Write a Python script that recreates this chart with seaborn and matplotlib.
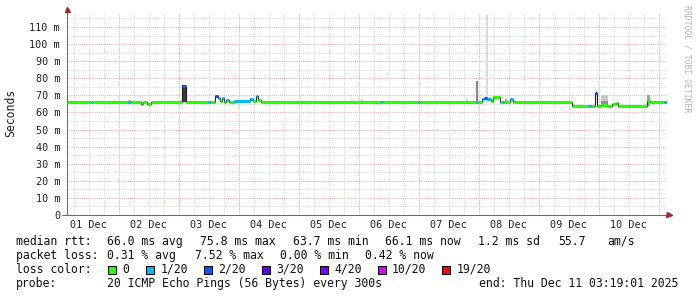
import numpy as np
import pandas as pd
import matplotlib
matplotlib.use("Agg")
import matplotlib.pyplot as plt
from matplotlib.patches import Rectangle
import seaborn as sns

# ---------------- data (hours since start: Dec 1 03:19:01) ----------------
median_h = [0.0, 9.6, 10.4, 24.4, 25.6, 29.6, 30.4, 32.0, 33.6, 46.0, 47.5,
            56.4, 57.6, 59.2, 60.4, 61.2, 62.0, 62.8, 63.6, 64.8, 66.8, 73.0,
            74.4, 75.6, 76.4, 77.6, 125.6, 126.4, 140.4, 141.2, 163.6, 164.4,
            166.0, 166.8, 168.0, 169.6, 170.4, 173.2, 174.0, 174.8, 177.2,
            178.4, 202.0, 208.4, 210.0, 211.2, 212.0, 213.6, 216.0, 218.0,
            219.6, 220.4, 232.0, 233.0, 238.8, 240.0]
median_ms = [66.0, 66.0, 66.0, 66.4, 66.0, 65.1, 66.0, 65.1, 66.0, 75.5, 66.0,
             66.0, 66.0, 69.5, 68.4, 67.0, 68.2, 66.4, 67.3, 66.0, 66.5, 67.6,
             66.8, 69.6, 67.4, 66.0, 66.0, 66.0, 66.0, 66.0, 66.0, 66.0,
             67.6, 68.3, 67.6, 66.8, 68.9, 66.0, 66.0, 66.0, 67.6,
             66.0, 63.8, 63.8, 63.8, 71.4, 63.8, 64.3, 64.0, 64.8,
             65.3, 63.8, 66.6, 66.0, 66.0, 66.0]
median_loss = [0, 1, 0, 1, 0, 0, 0, 0, 0, 2, 0,
               1, 0, 2, 1, 0, 1, 0, 1, 0, 1, 1,
               0, 1, 0, 0, 1, 0, 1, 0, 1, 0,
               1, 2, 1, 0, 0, 0, 1, 0, 1,
               0, 0, 1, 0, 2, 0, 0, 0, 0,
               0, 0, 0, 0, 1, 1]

smoke_start = [46.0, 24.4, 59.2, 73.0, 113.6, 117.6, 155.0, 159.6, 163.6, 167.6,
               175.2, 183.6, 202.4, 213.6, 213.6, 222.0, 232.0]
smoke_end = [47.5, 25.6, 59.6, 74.4, 114.4, 118.4, 157.6, 160.4, 164.4, 168.4,
             176.0, 185.6, 203.2, 216.4, 216.4, 223.2, 233.2]
smoke_low = [66.0, 66.0, 66.0, 66.5, 66.0, 66.0, 66.0, 66.0, 66.0, 66.0,
             66.0, 66.0, 63.8, 64.0, 64.0, 63.8, 64.0]
smoke_high = [75.8, 67.2, 69.5, 68.4, 67.6, 67.8, 66.8, 67.6, 78.4, 117.0,
              67.6, 66.6, 65.2, 70.2, 66.5, 65.0, 70.2]
smoke_shade = ['#3c3c3c', '#bcbcbc', '#505050', '#9c9c9c', '#dcdcdc', '#dcdcdc',
               '#e2e2e2', '#d4d4d4', '#888888', '#dadada', '#a8a8a8', '#e0e0e0',
               '#cccccc', '#c8c8c8', '#909090', '#dadada', '#a0a0a0']

loss_labels = ['0', '1/20', '2/20', '3/20', '4/20', '10/20', '19/20']
loss_colors = ['#26ff00', '#00b8ff', '#0059ff', '#5e00ff', '#7e00ff', '#dd00ff', '#ff0000']

day_labels = ['01 Dec', '02 Dec', '03 Dec', '04 Dec', '05 Dec',
              '06 Dec', '07 Dec', '08 Dec', '09 Dec', '10 Dec']
y_ticks = [0, 10, 20, 30, 40, 50, 60, 70, 80, 90, 100, 110]
y_ticklabels = ['0', '10 m', '20 m', '30 m', '40 m', '50 m', '60 m',
                '70 m', '80 m', '90 m', '100 m', '110 m']

stats_rtt = ['median rtt:', '66.0 ms avg', '75.8 ms max', '63.7 ms min',
             '66.1 ms now', '1.2 ms sd', '55.7', 'am/s']
stats_loss = ['packet loss:', '0.31 % avg', '7.52 % max', '0.00 % min', '0.42 % now']
probe_text = ['probe:', '20 ICMP Echo Pings (56 Bytes) every 300s',
              'end: Thu Dec 11 03:19:01 2025']

# ---------------- style ----------------
sns.set_style("white")
plt.rcParams['font.family'] = ['DejaVu Sans Mono']

W, H = 697, 297
fig = plt.figure(figsize=(W / 100, H / 100), dpi=100)
fig.patch.set_facecolor('white')

def fx(px):
    return px / W

def fy(py):
    return 1 - py / H

ax = fig.add_axes([fx(67), fy(215), 600 / W, 202.5 / H])
ax.set_facecolor('white')
ax.set_xlim(0, 240)
ax.set_ylim(0, 118.5)

# grid
first_midnight = 24 - (3 + 19 / 60 + 1 / 3600)
minor_col = '#dadada'
major_col = '#e8b4b4'
for v in np.arange(5, 118, 10):
    ax.axhline(v, color=minor_col, lw=0.75, ls=(0, (1, 1)), zorder=0)
for v in y_ticks[1:]:
    ax.axhline(v, color=major_col, lw=0.75, ls=(0, (1, 1)), zorder=0.5)
h = first_midnight - 18
while h < 240:
    is_major = abs(((h - first_midnight) / 24) - round((h - first_midnight) / 24)) < 1e-6
    if h > 0.5:
        ax.axvline(h, color=major_col if is_major else minor_col, lw=0.75,
                   ls=(0, (1, 1)), zorder=0.5 if is_major else 0)
    h += 6

# smoke
ax.bar(smoke_start, np.array(smoke_high) - np.array(smoke_low), bottom=smoke_low,
       width=np.array(smoke_end) - np.array(smoke_start), align='edge',
       color=smoke_shade, linewidth=0, zorder=2)

# median line: dark connectors, then loss coloured segments
df = pd.DataFrame({'hours': median_h, 'rtt': median_ms})
sns.lineplot(data=df, x='hours', y='rtt', drawstyle='steps-post', color='#1a1a1a',
             lw=0.8, ax=ax, zorder=3, estimator=None, sort=False)
for i in range(len(median_h) - 1):
    ax.hlines(median_ms[i], median_h[i], median_h[i + 1],
              color=loss_colors[median_loss[i]], lw=2.2, zorder=4)

# axes
for s in ['top', 'right']:
    ax.spines[s].set_visible(False)
ax.spines['left'].set_color('#6a6a6a')
ax.spines['bottom'].set_visible(False)
ax.spines['left'].set_linewidth(0.75)
ax.plot([-2, 242], [0, 0], color='#6a6a6a', lw=0.75, clip_on=False, zorder=5)
ax.plot([240.8], [0], marker='>', color='#a02828', markersize=3.6, clip_on=False, zorder=6)
ax.plot([0], [120.8], marker='^', color='#a02828', markersize=3.6, clip_on=False, zorder=6)

ax.set_yticks(y_ticks)
ax.set_yticklabels(y_ticklabels)
noons = [first_midnight - 12 + 24 * k for k in range(len(day_labels))]
ax.set_xticks(noons)
ax.set_xticklabels(day_labels)
ax.set_xticks([first_midnight + 24 * k for k in range(10)], minor=True)
ax.tick_params(axis='both', which='major', length=0, labelsize=7.3, colors='#222222')
ax.tick_params(axis='y', pad=5)
ax.tick_params(axis='x', pad=3.5)
ax.tick_params(axis='x', which='minor', length=3, direction='inout', color='#333333', width=0.75)
ax.set_xlabel('')
ax.set_ylabel('')

fig.text(fx(11), fy(113), 'Seconds', rotation=90, ha='center', va='center',
         fontsize=8.3, color='#222222')
fig.text(fx(687), fy(59), 'RRDTOOL / TOBI OETIKER', rotation=270, ha='center',
         va='center', fontsize=5.9, color='#b4b4b4')

# legend text
fs = 8.3
rtt_x = [16, 107, 200, 293, 385, 478, 558, 607]
for t, x in zip(stats_rtt, rtt_x):
    fig.text(fx(x), fy(245), t, fontsize=fs, va='baseline', ha='left', color='#111111')
loss_x = [16, 107, 195, 280, 365]
for t, x in zip(stats_loss, loss_x):
    fig.text(fx(x), fy(259), t, fontsize=fs, va='baseline', ha='left', color='#111111')
fig.text(fx(16), fy(273), 'loss color:', fontsize=fs, va='baseline', ha='left', color='#111111')
sq_x = [108, 146, 203.5, 261.5, 319.5, 377.5, 442]
for lab, col, x in zip(loss_labels, loss_colors, sq_x):
    fig.patches.append(Rectangle((fx(x), fy(273.5)), 8 / W, 8 / H, transform=fig.transFigure,
                                 facecolor=col, edgecolor='black', lw=0.75))
    fig.text(fx(x + 14.5), fy(273), lab, fontsize=fs, va='baseline', ha='left', color='#111111')
probe_x = [16, 107, 479]
for t, x in zip(probe_text, probe_x):
    fig.text(fx(x), fy(287), t, fontsize=fs, va='baseline', ha='left', color='#111111')

fig.savefig('out.png', dpi=100, facecolor='white')
